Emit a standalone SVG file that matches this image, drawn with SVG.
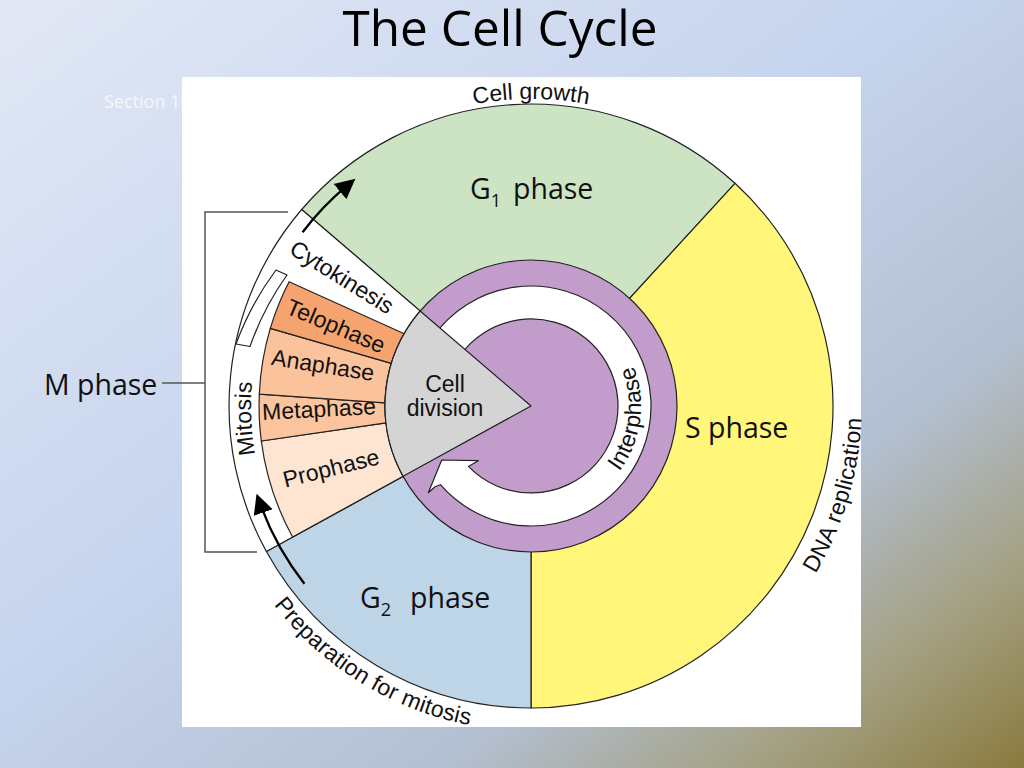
<svg xmlns="http://www.w3.org/2000/svg" width="1024" height="768" viewBox="0 0 1024 768">
<defs>
<linearGradient id="bgG" x1="0" y1="0" x2="1" y2="1">
<stop offset="0" stop-color="#e2e8f5"/>
<stop offset="0.45" stop-color="#c6d4ee"/>
<stop offset="0.72" stop-color="#b3bfd0"/>
<stop offset="0.87" stop-color="#a39f80"/>
<stop offset="1" stop-color="#8a7a3e"/>
</linearGradient>
<marker id="ah" markerUnits="userSpaceOnUse" markerWidth="22" markerHeight="22" viewBox="0 -11 22 22" refX="10" refY="0" orient="auto">
<path d="M0,-10 L20,0 L0,10 Z" fill="#000"/>
</marker>
<path id="pGrowth" d="M354.9 154.5 A307 307 0 0 1 707.1 154.5"/>
<path id="pDNA" d="M744.7 657.6 A331 331 0 0 0 847.6 309.2"/>
<path id="pPrep" d="M222.6 508.6 A325 325 0 0 0 578.5 727.5"/>
<path id="pMit" d="M277.2 524.3 A280 280 0 0 1 267.9 310.2"/>
<path id="pInter" d="M608.8 483.8 A110 110 0 0 0 626.3 351"/>
<style>
.ol{stroke:#222;stroke-width:1.2;stroke-linejoin:round}
.lbl{font-family:"Liberation Sans",Arial,Helvetica,sans-serif;font-size:23px;fill:#111}
.big{font-family:"Open Sans","Noto Sans",sans-serif;font-size:28.5px;fill:#111}
.brk{fill:none;stroke:#555;stroke-width:1.5}
.arr{fill:none;stroke:#000;stroke-width:2.3}
</style>
</defs>

<g id="background">
<rect x="0" y="0" width="1024" height="768" fill="url(#bgG)"/>
<text x="104" y="108" font-family="Open Sans, sans-serif" font-size="18" fill="#ffffff" fill-opacity="0.75">Section 10</text>
<text x="500" y="46" text-anchor="middle" font-family="Open Sans, sans-serif" font-size="50" fill="#000" textLength="315" lengthAdjust="spacingAndGlyphs">The Cell Cycle</text>
</g>

<g id="panel">
<rect x="182" y="77" width="679" height="650" fill="#ffffff"/>
</g>

<g id="g1-phase">
<path class="ol" fill="#cce4c4" d="M531 406 L301.7 209.5 A302 302 0 0 1 735 183.3 Z"/>
</g>
<g id="s-phase">
<path class="ol" fill="#fff67a" d="M531 406 L735 183.3 A302 302 0 0 1 531 708 Z"/>
</g>
<g id="g2-phase">
<path class="ol" fill="#bed5e8" d="M531 406 L531 708 A302 302 0 0 1 266.4 551.5 Z"/>
</g>
<g id="m-phase">
<path class="ol" fill="#ffffff" d="M531 406 L266.4 551.5 A302 302 0 0 1 301.7 209.5 Z"/>
</g>
<g id="prophase">
<path class="ol" fill="#fde5d2" d="M292.6 537 A272 272 0 0 1 261.3 441 L386 422.8 A146 146 0 0 0 403.1 476.3 Z"/>
</g>
<g id="metaphase">
<path class="ol" fill="#fbc49c" d="M261.3 441 A272 272 0 0 1 259.3 394.1 L385 402.9 A146 146 0 0 0 386 422.8 Z"/>
</g>
<g id="anaphase">
<path class="ol" fill="#fbc39b" d="M259.3 394.1 A272 272 0 0 1 270.3 328.3 L391.4 363.3 A146 146 0 0 0 385 402.9 Z"/>
</g>
<g id="telophase">
<path class="ol" fill="#f6a46f" d="M270.3 328.3 A272 272 0 0 1 289.1 281.7 L404.2 333.7 A146 146 0 0 0 391.4 363.3 Z"/>
</g>
<g id="mitosis-bracket">
<path class="ol" fill="#ffffff" d="M276 270 A295 295 0 0 0 236 344 L250 346.5 A285 285 0 0 1 287 275 Z"/>
</g>

<g id="interphase">
<circle class="ol" cx="531" cy="406" r="146" fill="#c29dcb"/>
<path class="ol" fill="#ffffff" d="M432.7 337.2 A120 120 0 1 1 440.4 484.7 L435 486.7 L428.3 492.7 L441.7 460 L478.3 460.7 L468.4 466.4 A87 87 0 1 0 459.7 356.1 Z"/>
</g>

<g id="cell-division">
<path class="ol" fill="#d4d4d4" d="M531 406 L420.1 311 A146 146 0 0 0 403.1 476.3 Z"/>
<text class="lbl" x="445" y="392" text-anchor="middle">Cell</text>
<text class="lbl" x="445" y="415.5" text-anchor="middle">division</text>
</g>

<g id="connectors">
<path class="brk" d="M288 212 H205 V552 H257"/>
<path class="brk" d="M162 383 H205"/>
<path class="arr" d="M302.6 232.2 A287 287 0 0 1 347.7 185.2" marker-end="url(#ah)"/>
<path class="arr" d="M304.4 583.7 A288 288 0 0 1 259.9 503.1" marker-end="url(#ah)"/>
</g>

<g id="labels">
<text class="lbl" transform="translate(342,277) rotate(32)" text-anchor="middle" dominant-baseline="central">Cytokinesis</text>
<text class="lbl" transform="translate(336,326) rotate(23)" text-anchor="middle" dominant-baseline="central">Telophase</text>
<text class="lbl" transform="translate(323,365) rotate(9)" text-anchor="middle" dominant-baseline="central">Anaphase</text>
<text class="lbl" transform="translate(319,409) rotate(-3)" text-anchor="middle" dominant-baseline="central">Metaphase</text>
<text class="lbl" transform="translate(331,468) rotate(-14)" text-anchor="middle" dominant-baseline="central">Prophase</text>
<text class="lbl" letter-spacing="0.2"><textPath href="#pMit" startOffset="50%" text-anchor="middle">Mitosis</textPath></text>
<text class="lbl" letter-spacing="0.3"><textPath href="#pInter" startOffset="50%" text-anchor="middle">Interphase</textPath></text>
<text class="lbl"><textPath href="#pGrowth" startOffset="50%" text-anchor="middle">Cell growth</textPath></text>
<text class="lbl" letter-spacing="0.4"><textPath href="#pDNA" startOffset="50%" text-anchor="middle">DNA replication</textPath></text>
<text class="lbl" letter-spacing="0.2"><textPath href="#pPrep" startOffset="50%" text-anchor="middle">Preparation for mitosis</textPath></text>

<text class="big" x="470" y="199">G<tspan font-size="18" dy="8">1</tspan><tspan x="513" dy="-8">phase</tspan></text>
<text class="big" x="685" y="438">S phase</text>
<text class="big" x="44" y="395">M phase</text>
<text class="big" x="360" y="608">G<tspan font-size="18" dy="8">2</tspan><tspan x="410" dy="-8">phase</tspan></text>
</g>
</svg>
